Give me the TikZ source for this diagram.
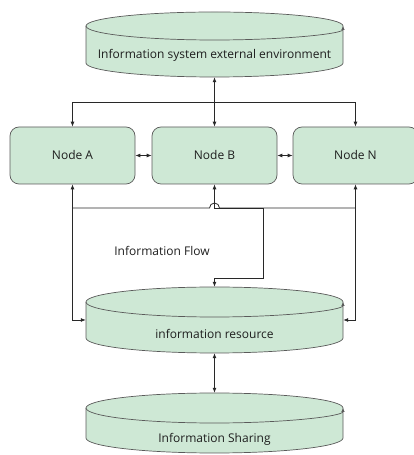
\documentclass[tikz,border=0pt]{standalone}
\usepackage{fontspec}
\setmainfont{Open Sans}
\usetikzlibrary{arrows.meta,calc}
\definecolor{boxfill}{RGB}{206,232,213}
\definecolor{rim}{RGB}{90,90,90}
\definecolor{wire}{RGB}{40,40,40}
\definecolor{ink}{RGB}{30,30,30}

% #1 name, #2 top y, #3 lowest y, #4 ellipse y-radius, #5 label y, #6 label
\newcommand\drum[6]{%
  \path[fill=boxfill,draw=rim,line width=0.7pt]
    (86,{#2-#4}) -- (86,{#3+#4})
    arc[start angle=180,end angle=360,x radius=128.5,y radius=#4]
    -- (343,{#2-#4})
    arc[start angle=0,end angle=180,x radius=128.5,y radius=#4] -- cycle;
  \draw[rim,line width=0.7pt,-{Latex[length=4pt,width=3.5pt]}]
    (86,{#2-#4}) arc[start angle=180,end angle=360,x radius=128.5,y radius=#4];
  \node[drumbox,minimum height={#2-#3}] (#1) at (214.5,{(#2+#3)/2}) {};
  \node[label] (#1-text) at (214.5,#5) {#6};
}

\begin{document}
\begin{tikzpicture}[x=1pt,y=1pt,
  label/.style={font=\fontsize{12}{14}\selectfont,text=ink,inner sep=1pt},
  drumbox/.style={draw=none,inner sep=0pt,minimum width=257pt},
  unit/.style={draw=rim,fill=boxfill,line width=0.7pt,rounded corners=9pt,
    minimum width=125pt,minimum height=57pt,inner sep=0pt,
    font=\fontsize{12}{14}\selectfont,text=ink},
  link/.style={draw=wire,line width=0.8pt},
  tip/.style={{Latex[length=5pt,width=4pt]}-{Latex[length=5pt,width=4pt]}},
  fwd/.style={-{Latex[length=5pt,width=4pt]}}]
\useasboundingbox (0,0) rectangle (413,455);

% storage drums
\drum{env}{443}{378}{14}{400}{Information system external environment}
\drum{res}{168}{102}{15}{121}{information resource}
\drum{share}{62}{2}{15}{16}{Information Sharing}

% processing nodes
\node[unit] (A) at (72.5,299.5) {Node A};
\node[unit] (B) at (214.5,299.5) {Node B};
\node[unit] (N) at (355.5,299.5) {Node N};

\node[label] (flow) at (162,204) {Information Flow};

% environment to nodes
\coordinate (top) at (214.5,353);
\draw[link,tip] (env.south) -- (B.north);
\draw[link,fwd] (top) -| (A.north);
\draw[link,fwd] (top) -| (N.north);

% neighbouring nodes
\draw[link,tip] (A.east) -- (B.west);
\draw[link,tip] (B.east) -- (N.west);

% nodes to the resource drum
\coordinate (bl) at (72.5,247);
\coordinate (br) at (355.5,247);
\draw[link] (bl) -- (209.5,247) arc[start angle=180,end angle=0,radius=5] -- (br);
\draw[link,tip] (A.south) |- (res.west);
\draw[link,tip] (N.south) |- (res.east);
\draw[link,tip] (B.south) -- (214.5,247) -- (263,247) -- (263,177)
  -- (214.5,177) -- (res.north);

% resource to sharing
\draw[link,tip] (res.south) -- (share.north);
\end{tikzpicture}
\end{document}
